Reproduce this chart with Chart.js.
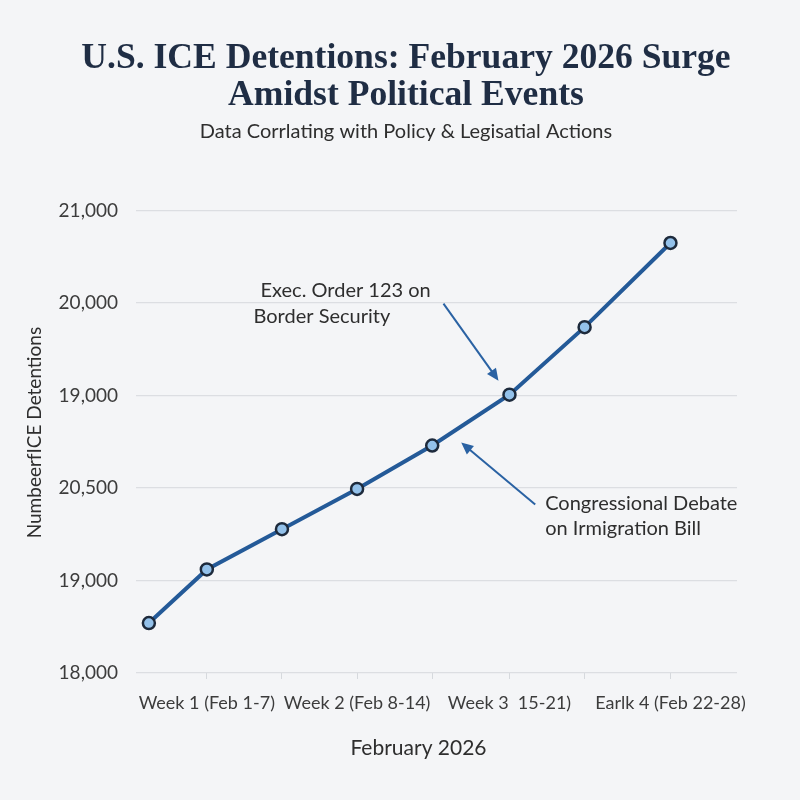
<!DOCTYPE html>
<html>
<head>
<meta charset="utf-8">
<script src="https://cdn.jsdelivr.net/npm/chart.js@4.4.1/dist/chart.umd.min.js"></script>
<style>
  html, body { margin: 0; padding: 0; background: #f4f5f7; }
  #wrap { width: 800px; height: 800px; }
</style>
</head>
<body>
<div id="wrap"><canvas id="c" width="800" height="800"></canvas></div>
<script>
// ---- Data ----
const titleLines = ['U.S. ICE Detentions: February 2026 Surge', 'Amidst Political Events'];
const subtitleText = 'Data Corrlating with Policy & Legisatial Actions';
const xTitle = 'February 2026';
const yTitle = 'NumbeerfICE Detentions';
// day of February for each observation
const xDays = [0.6, 3.3, 6.8, 10.3, 13.8, 17.4, 20.9, 24.9];
// detentions (positions on the linear value scale)
const detentions = [18540, 19120, 19555, 19990, 20460, 21010, 21740, 22650];
// tick labels as printed on the chart
const xTickLabels = ['', 'Week 1 (Feb 1-7)', '', 'Week 2 (Feb 8-14)', '', 'Week 3  15-21)', '', 'Earlk 4 (Feb 22-28)'];
const yTickValues = [18000, 19000, 20000, 21000, 22000, 23000];
const yTickLabels = ['18,000', '19,000', '20,500', '19,000', '20,000', '21,000'];
// annotations: text lines, point index they refer to
const annotations = [
  { lines: ['Exec. Order 123 on', 'Border Security'], point: 5,
    text: [[-249, -104], [-256, -78]], arrow: [[-66, -91], [-11, -14]] },
  { lines: ['Congressional Debate', 'on Irmigration Bill'], point: 4,
    text: [[113, 58], [113, 83]], arrow: [[103, 59], [29, -3]] }
];

const LINE_COLOR = '#245a98';
const ARROW_COLOR = '#2a62a3';
const FONT = 'Lato, "Open Sans", sans-serif';

const annotationPlugin = {
  id: 'notes',
  afterDraw(chart) {
    const ctx = chart.ctx;
    const area = chart.chartArea;
    ctx.save();
    // axis titles
    ctx.fillStyle = '#2e2e2e';
    ctx.textAlign = 'center';
    ctx.textBaseline = 'middle';
    ctx.font = '21px ' + FONT;
    ctx.fillText(xTitle, area.left + (area.right - area.left) * 0.47, 748);
    ctx.save();
    ctx.translate(35, area.top + (area.bottom - area.top) * 0.48);
    ctx.rotate(-Math.PI / 2);
    ctx.font = '19px ' + FONT;
    ctx.fillText(yTitle, 0, 0);
    ctx.restore();
    ctx.restore();
  },
  afterDatasetsDraw(chart) {
    const ctx = chart.ctx;
    const meta = chart.getDatasetMeta(0);
    ctx.save();
    annotations.forEach(a => {
      const p = meta.data[a.point];
      ctx.fillStyle = '#2e2e2e';
      ctx.font = '20px ' + FONT;
      ctx.textBaseline = 'middle';
      ctx.textAlign = 'left';
      a.lines.forEach((t, i) => ctx.fillText(t, p.x + a.text[i][0], p.y + a.text[i][1]));
      const sx = p.x + a.arrow[0][0], sy = p.y + a.arrow[0][1];
      const ex = p.x + a.arrow[1][0], ey = p.y + a.arrow[1][1];
      const ang = Math.atan2(ey - sy, ex - sx);
      const hl = 12, hw = 5.5;
      ctx.strokeStyle = ARROW_COLOR;
      ctx.fillStyle = ARROW_COLOR;
      ctx.lineWidth = 2;
      ctx.beginPath();
      ctx.moveTo(sx, sy);
      ctx.lineTo(ex - Math.cos(ang) * hl * 0.8, ey - Math.sin(ang) * hl * 0.8);
      ctx.stroke();
      ctx.beginPath();
      ctx.moveTo(ex, ey);
      ctx.lineTo(ex - Math.cos(ang) * hl - Math.sin(ang) * hw, ey - Math.sin(ang) * hl + Math.cos(ang) * hw);
      ctx.lineTo(ex - Math.cos(ang) * hl + Math.sin(ang) * hw, ey - Math.sin(ang) * hl - Math.cos(ang) * hw);
      ctx.closePath();
      ctx.fill();
    });
    ctx.restore();
  }
};

new Chart(document.getElementById('c'), {
  type: 'line',
  data: {
    datasets: [{
      data: xDays.map((d, i) => ({ x: d, y: detentions[i] })),
      borderColor: LINE_COLOR,
      borderWidth: 4,
      pointRadius: 6,
      pointBorderWidth: 2.5,
      pointBackgroundColor: '#93c1ea',
      pointBorderColor: '#1d2a3c',
      tension: 0
    }]
  },
  options: {
    responsive: false,
    animation: false,
    layout: { padding: { left: 12, right: 0, top: 0, bottom: 0 } },
    plugins: {
      legend: { display: false },
      tooltip: { enabled: false },
      title: {
        display: true,
        text: titleLines,
        color: '#1f2d44',
        font: { family: '"Liberation Serif", "DejaVu Serif", serif', size: 35.6, weight: 'bold', lineHeight: 1.02 },
        padding: { top: 41, bottom: 0 }
      },
      subtitle: {
        display: true,
        text: subtitleText,
        color: '#2e2e2e',
        font: { family: FONT, size: 20, lineHeight: 1.2 },
        padding: { top: 6, bottom: 67 }
      }
    },
    scales: {
      x: {
        type: 'linear',
        min: 0,
        max: 28,
        afterBuildTicks(scale) {
          scale.ticks = xDays.slice(1).map(v => ({ value: v }));
        },
        afterFit(scale) { scale.height = 127; },
        border: { display: false },
        grid: { drawOnChartArea: false, drawTicks: true, tickLength: 6, color: '#d6d9dd' },
        ticks: {
          autoSkip: false,
          maxRotation: 0,
          padding: 13,
          color: '#3c3c3c',
          font: { family: FONT, size: 18 },
          callback(value) {
            const i = xDays.indexOf(value);
            return i >= 0 ? xTickLabels[i] : '';
          }
        }
      },
      y: {
        min: 18000,
        max: 23000,
        afterBuildTicks(scale) {
          scale.ticks = yTickValues.map(v => ({ value: v }));
        },
        afterFit(scale) { scale.width = 124; },
        border: { display: false },
        grid: { drawTicks: false, color: '#dcdee2', lineWidth: 1.2 },
        ticks: {
          padding: 18,
          color: '#3c3c3c',
          font: { family: FONT, size: 19 },
          callback(value) {
            const i = yTickValues.indexOf(value);
            return i >= 0 ? yTickLabels[i] : '';
          }
        }
      },
      yRight: {
        position: 'right',
        min: 18000,
        max: 23000,
        afterFit(scale) { scale.width = 63; },
        border: { display: false },
        grid: { display: false },
        ticks: { display: false }
      }
    }
  },
  plugins: [annotationPlugin]
});
</script>
</body>
</html>
